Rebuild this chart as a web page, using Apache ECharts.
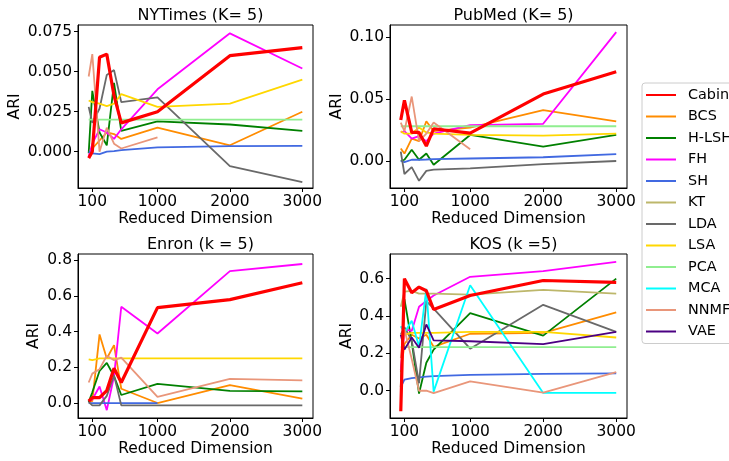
<!DOCTYPE html>
<html>
<head>
<meta charset="utf-8">
<script src="https://cdn.jsdelivr.net/npm/echarts@6/dist/echarts.min.js"></script>
<style>
  html, body { margin: 0; padding: 0; background: #fff; }
  #chart { width: 729px; height: 461px; }
</style>
</head>
<body>
<div id="chart"></div>
<script>
// reduced dimensions (x axis)
const dims = [50, 100, 200, 300, 400, 500, 1000, 2000, 3000]
const xTicks = [100, 1000, 2000, 3000]
const methods = ['Cabin', 'BCS', 'H-LSH', 'FH', 'SH', 'KT', 'LDA', 'LSA', 'PCA', 'MCA', 'NNMF', 'VAE']

// NYTimes (K= 5)
const nytCabin = [-0.004, 0.0, 0.059, 0.061, 0.035, 0.018, 0.025, 0.060, 0.065]
const nytBCS = [-0.003, 0.002, 0.007, 0.012, 0.011, 0.008, 0.015, 0.004, 0.025]
const nytHLSH = [-0.001, 0.038, 0.012, 0.004, 0.043, 0.013, 0.019, 0.017, 0.013]
const nytFH = [-0.003, 0.005, 0.014, 0.012, 0.008, 0.014, 0.039, 0.074, 0.052]
const nytSH = [0.0, -0.001, -0.0015, 0.0, 0.0003, 0.001, 0.0027, 0.0035, 0.0036]
const nytLDA = [0.028, 0.018, 0.027, 0.048, 0.051, 0.031, 0.034, -0.009, -0.019]
const nytLSA = [0.032, 0.031, 0.030, 0.0285, 0.030, 0.036, 0.028, 0.030, 0.045]
const nytPCA = [0.020, 0.020, 0.020, 0.020, 0.020, 0.020, 0.020, 0.020, 0.020]
const nytNNMF = [0.047, 0.061, 0.0, 0.015, 0.005, 0.002, 0.009, null, null]
const nytTicks = [0, 0.025, 0.05, 0.075]

// PubMed (K= 5)
const pubCabin = [0.033, 0.049, 0.023, 0.023, 0.012, 0.026, 0.0225, 0.054, 0.072]
const pubBCS = [0.010, 0.006, 0.018, 0.016, 0.032, 0.024, 0.027, 0.041, 0.032]
const pubHLSH = [0.0, 0.001, 0.009, 0.001, 0.006, -0.003, 0.021, 0.0115, 0.021]
const pubFH = [0.023, 0.024, 0.018, 0.020, 0.016, 0.022, 0.029, 0.030, 0.104]
const pubSH = [0.0, -0.001, 0.001, 0.001, 0.0012, 0.0015, 0.002, 0.003, 0.0056]
const pubLDA = [0.0075, -0.0105, -0.005, -0.016, -0.008, -0.007, -0.006, -0.0025, 0.0]
const pubLSA = [0.024, 0.022, 0.022, 0.027, 0.023, 0.022, 0.021, 0.0205, 0.022]
const pubPCA = [0.028, 0.028, 0.028, 0.028, 0.028, 0.028, 0.028, 0.028, 0.028]
const pubNNMF = [0.031, 0.024, 0.052, 0.016, 0.022, 0.031, 0.0094, null, null]
const pubTicks = [0, 0.05, 0.1]

// Enron (k = 5)
const enrCabin = [0.01, 0.03, 0.03, 0.07, 0.195, 0.115, 0.535, 0.58, 0.675]
const enrBCS = [0.01, 0.01, 0.385, 0.25, 0.325, 0.08, 0.0, 0.10, 0.025]
const enrHLSH = [0.005, 0.06, 0.18, 0.225, 0.15, 0.045, 0.107, 0.068, 0.065]
const enrFH = [0.01, 0.02, 0.093, -0.04, 0.15, 0.54, 0.39, 0.74, 0.78]
const enrSH = [0.0, 0.0, 0.0, 0.0, 0.0, 0.0, 0.0, null, null]
const enrLDA = [0.005, -0.013, -0.013, 0.04, 0.155, -0.013, -0.013, -0.013, -0.013]
const enrLSA = [0.245, 0.24, 0.25, 0.25, 0.25, 0.25, 0.25, 0.25, 0.25]
const enrNNMF = [0.115, 0.165, 0.19, 0.265, 0.24, 0.255, 0.035, 0.135, 0.127]
const enrTicks = [0, 0.2, 0.4, 0.6, 0.8]

// KOS (k =5)
const kosCabin = [-0.11, 0.6, 0.525, 0.555, 0.535, 0.435, 0.51, 0.59, 0.58]
const kosBCS = [0.1, 0.25, 0.3, 0.28, 0.3, 0.235, 0.305, 0.31, 0.42]
const kosHLSH = [0.02, 0.49, 0.26, -0.015, 0.15, 0.22, 0.415, 0.295, 0.6]
const kosFH = [0.11, 0.33, 0.32, 0.45, 0.48, 0.51, 0.61, 0.64, 0.69]
const kosSH = [0.02, 0.06, 0.068, 0.072, 0.075, 0.078, 0.085, 0.09, 0.093]
const kosKT = [0.45, 0.53, 0.535, 0.52, 0.52, 0.52, 0.515, 0.54, 0.52]
const kosLDA = [0.3, 0.34, 0.27, 0.04, 0.48, 0.44, 0.225, 0.46, 0.315]
const kosLSA = [0.3, 0.3, 0.31, 0.31, 0.31, 0.31, 0.315, 0.315, 0.285]
const kosPCA = [0.233, 0.233, 0.233, 0.233, 0.233, 0.233, 0.233, 0.233, 0.233]
const kosMCA = [0.345, 0.31, 0.375, 0.235, 0.545, -0.005, 0.565, -0.012, -0.012]
const kosNNMF = [0.175, 0.33, 0.17, 0.0, 0.0, -0.013, 0.05, -0.01, 0.1]
const kosVAE = [0.3, 0.22, 0.285, 0.23, 0.355, 0.27, 0.265, 0.25, 0.315]
const kosTicks = [0, 0.2, 0.4, 0.6]

const colors = {
  Cabin: '#ff0000', BCS: '#ff8c00', 'H-LSH': '#008000', FH: '#ff00ff',
  SH: '#4169e1', KT: '#bdb76b', LDA: '#696969', LSA: '#ffd700',
  PCA: '#90ee90', MCA: '#00ffff', NNMF: '#e9967a', VAE: '#4b0082'
}

const panels = [
  {
    title: 'NYTimes (K= 5)', grid: { left: 78, top: 25, width: 235, height: 163 },
    ymin: -0.0227, ymax: 0.0792, ticks: nytTicks, digits: 3, nameGap: 55,
    values: { Cabin: nytCabin, BCS: nytBCS, 'H-LSH': nytHLSH, FH: nytFH, SH: nytSH, LDA: nytLDA, LSA: nytLSA, PCA: nytPCA, NNMF: nytNNMF }
  },
  {
    title: 'PubMed (K= 5)', grid: { left: 390, top: 25, width: 237, height: 163 },
    ymin: -0.0218, ymax: 0.1097, ticks: pubTicks, digits: 2, nameGap: 45,
    values: { Cabin: pubCabin, BCS: pubBCS, 'H-LSH': pubHLSH, FH: pubFH, SH: pubSH, LDA: pubLDA, LSA: pubLSA, PCA: pubPCA, NNMF: pubNNMF }
  },
  {
    title: 'Enron (k = 5)', grid: { left: 78, top: 254, width: 235, height: 164 },
    ymin: -0.084, ymax: 0.836, ticks: enrTicks, digits: 1, nameGap: 36,
    values: { Cabin: enrCabin, BCS: enrBCS, 'H-LSH': enrHLSH, FH: enrFH, SH: enrSH, LDA: enrLDA, LSA: enrLSA, NNMF: enrNNMF }
  },
  {
    title: 'KOS (k =5)', grid: { left: 390, top: 254, width: 237, height: 164 },
    ymin: -0.146, ymax: 0.732, ticks: kosTicks, digits: 1, nameGap: 35,
    values: { Cabin: kosCabin, BCS: kosBCS, 'H-LSH': kosHLSH, FH: kosFH, SH: kosSH, KT: kosKT, LDA: kosLDA, LSA: kosLSA, PCA: kosPCA, MCA: kosMCA, NNMF: kosNNMF, VAE: kosVAE }
  }
]

const font = 'DejaVu Sans'
const chart = echarts.init(document.getElementById('chart'))

const grids = []
const titles = []
const xAxes = []
const yAxes = []
const series = []

panels.forEach((p, i) => {
  grids.push(Object.assign({ show: true, borderColor: '#000', borderWidth: 1, backgroundColor: '#fff' }, p.grid))
  titles.push({
    text: p.title,
    left: p.grid.left + p.grid.width / 2,
    top: p.grid.top - 22,
    textAlign: 'center',
    textStyle: { fontFamily: font, fontSize: 16, fontWeight: 'normal', color: '#000' }
  })
  xAxes.push({
    type: 'value', gridIndex: i, min: -97.5, max: 3147.5,
    name: 'Reduced Dimension', nameLocation: 'middle', nameGap: 22,
    nameTextStyle: { fontFamily: font, fontSize: 15.5, color: '#000' },
    axisLine: { show: true, onZero: false, lineStyle: { color: '#000', width: 1 } },
    axisTick: { show: true, length: 4, customValues: xTicks, lineStyle: { color: '#000' } },
    axisLabel: {
      customValues: xTicks, margin: 6, fontFamily: font, fontSize: 15.5, color: '#000',
      formatter: (v) => String(v)
    },
    splitLine: { show: false }
  })
  yAxes.push({
    type: 'value', gridIndex: i, min: p.ymin, max: p.ymax,
    name: 'ARI', nameLocation: 'middle', nameGap: p.nameGap,
    nameTextStyle: { fontFamily: font, fontSize: 15.5, color: '#000' },
    axisLine: { show: true, onZero: false, lineStyle: { color: '#000', width: 1 } },
    axisTick: { show: true, length: 4, customValues: p.ticks, lineStyle: { color: '#000' } },
    axisLabel: {
      customValues: p.ticks, margin: 6, fontFamily: font, fontSize: 15.5, color: '#000',
      formatter: (v) => v.toFixed(p.digits)
    },
    splitLine: { show: false }
  })
  methods.forEach((m) => {
    const vals = p.values[m]
    if (!vals) return
    series.push({
      name: m,
      type: 'line',
      xAxisIndex: i,
      yAxisIndex: i,
      data: dims.map((d, k) => [d, vals[k]]).filter((pt) => pt[1] !== null),
      symbol: 'none',
      silent: true,
      z: m === 'Cabin' ? 5 : 2,
      lineStyle: { color: colors[m], width: m === 'Cabin' ? 3.2 : 1.8 },
      itemStyle: { color: colors[m] },
      emphasis: { disabled: true }
    })
  })
})

chart.setOption({
  animation: false,
  title: titles,
  grid: grids,
  xAxis: xAxes,
  yAxis: yAxes,
  legend: {
    orient: 'vertical',
    left: 642,
    top: 83,
    data: methods.map((m) => ({ name: m, icon: 'rect' })),
    itemWidth: 30,
    itemHeight: 2,
    itemGap: 7.5,
    padding: [5, 10, 5, 4],
    borderColor: '#ccc',
    borderWidth: 1,
    borderRadius: 3,
    backgroundColor: '#fff',
    textStyle: { fontFamily: font, fontSize: 14.4, color: '#000', padding: [0, 0, 0, 7] }
  },
  series: series
})
</script>
</body>
</html>
